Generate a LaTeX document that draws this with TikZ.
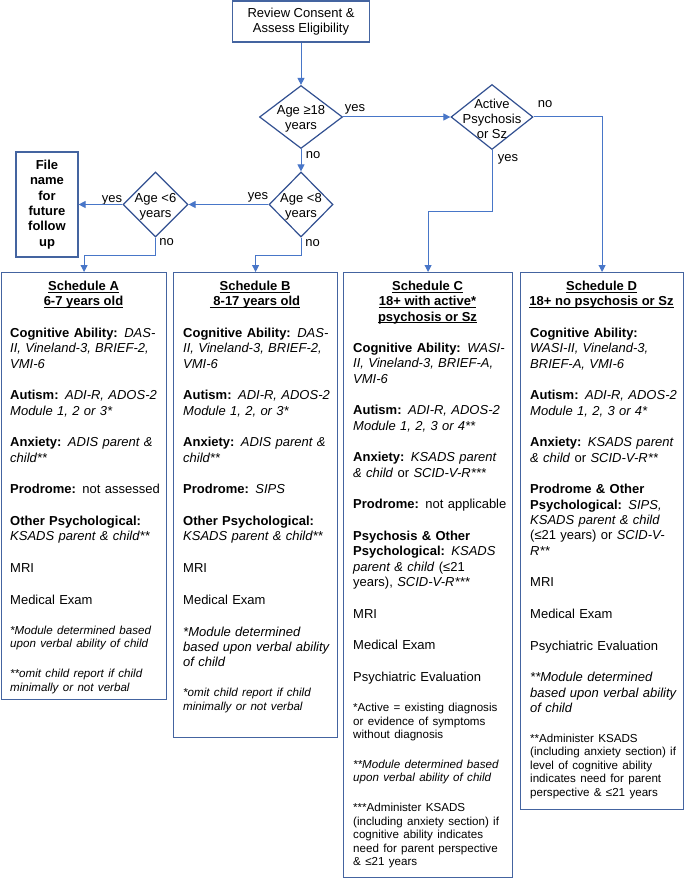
\documentclass[tikz,border=0pt]{standalone}
\usepackage{fontspec}
\setmainfont{Liberation Sans}
\usetikzlibrary{arrows.meta,shapes.geometric}
\definecolor{linec}{RGB}{72,118,200}
\definecolor{boxc}{RGB}{68,100,160}
\definecolor{diac}{RGB}{50,80,145}
\newcommand\uln[1]{\setbox0=\hbox{#1}\rlap{\rule[-2pt]{\wd0}{0.8pt}}\box0}
\newcommand\mainfs{\fontsize{13}{15.3}\selectfont}
\newcommand\smallfs{\fontsize{11.6}{13.5}\selectfont}
\begin{document}
\begin{tikzpicture}[x=1pt,y=-1pt,
 every node/.style={font=\mainfs},
 arr/.style={draw=linec, line width=1pt, -{Triangle[length=7pt,width=7pt]}},
 topbox/.style={draw=boxc, line width=1.2pt, align=center, inner sep=0pt},
 dia/.style={draw=diac, line width=1.2pt, diamond, inner sep=0pt},
 dtext/.style={align=center, inner sep=0pt},
 lbl/.style={inner sep=0pt},
 schbox/.style={draw=boxc, line width=1.2pt, anchor=north west, inner sep=0pt},
 head/.style={align=center, inner sep=0pt, anchor=north, font=\mainfs\bfseries},
 body/.style={align=left, text width=160pt, inner sep=0pt, anchor=north west,
   execute at begin node={\setlength{\parskip}{16.4pt}}},
]
\useasboundingbox (0,0) rectangle (685,880);
\fill[white] (0,0) rectangle (685,880);

% top flow
\node[topbox, minimum width=137pt, minimum height=41pt] (rev) at (301,21.5) {Review Consent \&\\Assess Eligibility};
\node[dia, minimum width=83pt, minimum height=63pt] (d18) at (301,117) {};
\node[dtext] (t18) at (301,119) {Age ≥18\\years};
\node[dia, minimum width=82pt, minimum height=65pt] (act) at (492,117) {};
\node[dtext] (tact) at (492,119) {Active\\Psychosis\\or Sz};
\node[dia, minimum width=64pt, minimum height=65pt] (d8) at (301,204.5) {};
\node[dtext] (t8) at (301,207) {Age <8\\years};
\node[dia, minimum width=65pt, minimum height=65pt] (d6) at (155.5,204.5) {};
\node[dtext] (t6) at (155.5,207) {Age <6\\years};
\node[topbox, minimum width=62pt, minimum height=105pt, font=\mainfs\bfseries] (file) at (47,204.5) {File\\name\\for\\future\\follow\\up};

% labels
\node[lbl] (l1) at (355,109) {yes};
\node[lbl] (l2) at (313,155) {no};
\node[lbl] (l3) at (545,104) {no};
\node[lbl] (l4) at (508,159) {yes};
\node[lbl] (l5) at (258,197) {yes};
\node[lbl] (l6) at (312.5,243) {no};
\node[lbl] (l7) at (112,200) {yes};
\node[lbl] (l8) at (166.5,242) {no};

% schedule boxes
\node[schbox, minimum width=165pt, minimum height=427pt] (schA) at (1,272) {};
\node[schbox, minimum width=164pt, minimum height=465pt] (schB) at (173,272) {};
\node[schbox, minimum width=169pt, minimum height=605pt] (schC) at (343,272) {};
\node[schbox, minimum width=163pt, minimum height=537pt] (schD) at (520,272) {};

% connectors
\draw[arr] (rev.south) -- (d18.north);
\draw[arr] (d18.east) -- (act.west);
\draw[arr] (act.east) -| (schD.north);
\draw[arr] (act.south) -- ++(0,61) -| (schC.north);
\draw[arr] (d18.south) -- (d8.north);
\draw[arr] (d8.west) -- (d6.east);
\draw[arr] (d6.west) -- (file.east);
\draw[arr] (d6.south) -- ++(0,18) -| (schA.north);
\draw[arr] (d8.south) -- ++(0,18) -| (schB.north);

% headings
\node[head] (hA) at (83.5,281) {\uln{Schedule A}\\\uln{6-7 years old}};
\node[head] (hB) at (255,281) {\uln{Schedule B}\\\uln{\ 8-17 years old}};
\node[head] (hC) at (427.5,281) {\uln{Schedule C}\\\uln{18+ with active*}\\\uln{psychosis or Sz}};
\node[head] (hD) at (601.5,281) {\uln{Schedule D}\\\uln{18+ no psychosis or Sz}};

% bodies
\node[body] (bA) at (10,328) {%
\textbf{Cognitive Ability:} \textit{DAS-}\\\textit{II, Vineland-3, BRIEF-2,}\\\textit{VMI-6}\par
\textbf{Autism:} \textit{ADI-R, ADOS-2}\\\textit{Module 1, 2 or 3*}\par
\textbf{Anxiety:} \textit{ADIS parent \&}\\\textit{child**}\par
\textbf{Prodrome:} not assessed\par
\textbf{Other Psychological:}\\\textit{KSADS parent \& child**}\par
MRI\par
Medical Exam\par
{\smallfs\itshape *Module determined based\\upon verbal ability of child\par
**omit child report if child\\minimally or not verbal\par}};

\node[body] (bB) at (183,328) {%
\textbf{Cognitive Ability:} \textit{DAS-}\\\textit{II, Vineland-3, BRIEF-2,}\\\textit{VMI-6}\par
\textbf{Autism:} \textit{ADI-R, ADOS-2}\\\textit{Module 1, 2, or 3*}\par
\textbf{Anxiety:} \textit{ADIS parent \&}\\\textit{child**}\par
\textbf{Prodrome:} \textit{SIPS}\par
\textbf{Other Psychological:}\\\textit{KSADS parent \& child**}\par
MRI\par
Medical Exam\par
{\itshape *Module determined\\based upon verbal ability\\of child\par}
{\smallfs\itshape *omit child report if child\\minimally or not verbal\par}};

\node[body] (bC) at (353,343) {%
\textbf{Cognitive Ability:} \textit{WASI-}\\\textit{II, Vineland-3, BRIEF-A,}\\\textit{VMI-6}\par
\textbf{Autism:} \textit{ADI-R, ADOS-2}\\\textit{Module 1, 2, 3 or 4**}\par
\textbf{Anxiety:} \textit{KSADS parent}\\\textit{\& child} or \textit{SCID-V-R***}\par
\textbf{Prodrome:} not applicable\par
\textbf{Psychosis \& Other}\\\textbf{Psychological:} \textit{KSADS}\\\textit{parent \& child} (≤21\\years), \textit{SCID-V-R***}\par
MRI\par
Medical Exam\par
Psychiatric Evaluation\par
{\smallfs *Active = existing diagnosis\\or evidence of symptoms\\without diagnosis\par
{\itshape **Module determined based\\upon verbal ability of child\par}
***Administer KSADS\\(including anxiety section) if\\cognitive ability indicates\\need for parent perspective\\\& ≤21 years\par}};

\node[body] (bD) at (530,328) {%
\textbf{Cognitive Ability:}\\\textit{WASI-II, Vineland-3,}\\\textit{BRIEF-A, VMI-6}\par
\textbf{Autism:} \textit{ADI-R, ADOS-2}\\\textit{Module 1, 2, 3 or 4*}\par
\textbf{Anxiety:} \textit{KSADS parent}\\\textit{\& child} or \textit{SCID-V-R**}\par
\textbf{Prodrome \& Other}\\\textbf{Psychological:} \textit{SIPS,}\\\textit{KSADS parent \& child}\\(≤21 years) or \textit{SCID-V-}\\\textit{R**}\par
MRI\par
Medical Exam\par
Psychiatric Evaluation\par
{\itshape **Module determined\\based upon verbal ability\\of child\par}
{\smallfs **Administer KSADS\\(including anxiety section) if\\level of cognitive ability\\indicates need for parent\\perspective \& ≤21 years\par}};
\end{tikzpicture}
\end{document}
